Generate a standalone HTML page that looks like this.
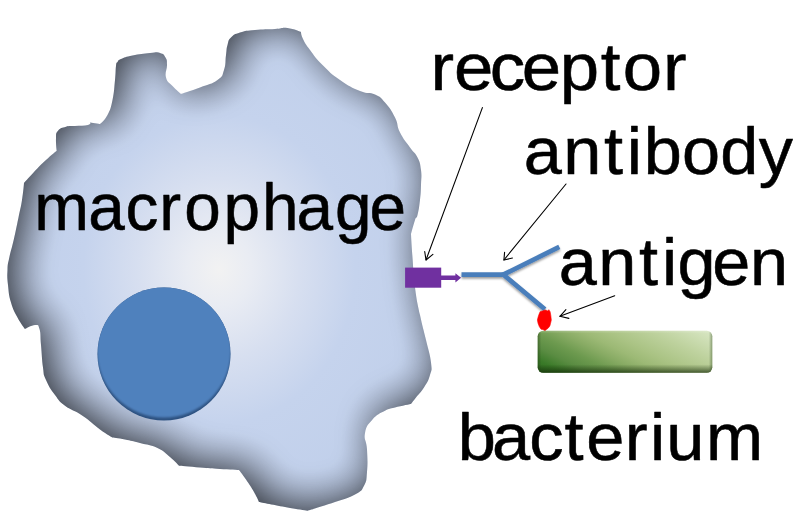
<!DOCTYPE html>
<html><head><meta charset="utf-8"><title>macrophage</title>
<style>
html,body{margin:0;padding:0;background:#fff;}
svg{display:block}
text{font-family:"Liberation Sans",sans-serif;fill:#000;stroke:#000;stroke-width:0.55px;stroke-linejoin:round}
</style></head><body>
<svg width="800" height="522" viewBox="0 0 800 522">
<defs>
<radialGradient id="mg" gradientUnits="userSpaceOnUse" cx="0" cy="0" r="245" gradientTransform="translate(219 269.5) scale(0.94 1.065)">
<stop offset="0" stop-color="#f2f2f2"/>
<stop offset="0.14" stop-color="#e9ecf3"/>
<stop offset="0.35" stop-color="#d7dff0"/>
<stop offset="0.59" stop-color="#c5d3ed"/>
<stop offset="1" stop-color="#c0cfea"/>
</radialGradient>
<filter id="bi" filterUnits="userSpaceOnUse" x="-60" y="-60" width="920" height="642" color-interpolation-filters="sRGB"><feGaussianBlur stdDeviation="18.5"/><feComponentTransfer><feFuncA type="table" tableValues="0.000 0.013 0.045 0.070 0.093 0.115 0.135 0.154 0.173 0.192 0.210 0.228 0.246 0.264 0.281 0.299 0.316 0.333 0.351 0.368 0.385 0.402 0.419 0.437 0.454 0.471 0.489 0.506 0.524 0.542 0.560 0.578 0.597 0.616 0.635 0.655 0.677 0.700 0.725 0.757 0.770"/></feComponentTransfer></filter>
<clipPath id="mc"><path d="M22.0,200.0C23.4,191.2 24.0,183.0 24.0,183.0C24.0,183.0 28.5,177.8 34.0,172.0C39.5,166.2 40.3,165.3 46.0,160.0C51.7,154.7 56.7,150.7 56.7,150.7C56.7,150.7 55.7,143.4 56.0,138.4C56.3,133.4 55.5,133.6 58.0,130.7C60.5,127.8 61.8,127.9 66.0,126.7C70.2,125.5 69.5,126.4 75.0,126.0C80.5,125.6 84.2,125.9 88.0,125.0C91.8,124.1 90.0,122.5 90.0,122.5C90.0,122.5 100.0,124.0 100.0,124.0C100.0,124.0 104.4,121.0 107.5,115.0C110.6,109.0 110.6,108.8 112.5,100.0C114.4,91.2 114.1,88.5 115.0,80.0C115.9,71.5 115.4,70.5 116.0,66.0C116.6,61.5 116.2,63.8 117.5,62.0C118.8,60.2 117.2,60.6 121.0,59.0C124.8,57.4 125.2,57.0 132.5,55.5C139.8,54.0 143.1,53.6 150.0,53.0C156.9,52.4 156.1,51.9 160.0,53.0C163.9,54.1 163.8,54.5 165.5,57.5C167.2,60.5 166.9,60.0 167.0,65.0C167.1,70.0 164.6,72.2 166.0,77.5C167.4,82.8 168.8,81.9 172.5,86.0C176.2,90.1 181.0,94.0 181.0,94.0C181.0,94.0 190.9,91.0 200.0,87.5C209.1,84.0 211.5,84.4 217.5,80.0C223.5,75.6 221.9,76.2 224.0,70.0C226.1,63.8 225.1,61.2 226.0,55.0C226.9,48.8 226.2,49.4 227.5,45.0C228.8,40.6 227.9,40.6 231.0,37.5C234.1,34.4 234.0,34.4 240.0,32.5C246.0,30.6 246.2,30.9 255.0,30.0C263.8,29.1 266.9,29.5 275.0,29.0C283.1,28.5 281.0,27.2 287.5,28.0C294.0,28.8 301.0,32.0 301.0,32.0C301.0,32.0 300.8,34.5 303.0,39.0C305.2,43.5 305.1,43.5 310.0,50.0C314.9,56.5 315.0,57.5 322.5,65.0C330.0,72.5 330.6,73.5 340.0,80.0C349.4,86.5 351.2,87.4 360.0,91.0C368.8,94.6 368.8,91.6 375.0,94.5C381.2,97.4 380.0,96.8 385.0,102.5C390.0,108.2 391.2,110.0 395.0,117.5C398.8,125.0 396.2,125.0 400.0,132.5C403.8,140.0 405.6,141.2 410.0,147.5C414.4,153.8 414.8,151.9 417.5,157.5C420.2,163.1 420.1,163.1 421.0,170.0C421.9,176.9 421.2,177.5 421.0,185.0C420.8,192.5 420.9,192.5 420.0,200.0C419.1,207.5 418.8,210.0 417.5,215.0C416.2,220.0 416.6,215.2 415.0,220.0C413.4,224.8 411.0,234.0 411.0,234.0C411.0,234.0 411.5,244.1 412.5,257.5C413.5,270.9 413.1,273.1 415.0,287.5C416.9,301.9 417.2,301.9 420.0,315.0C422.8,328.1 423.2,328.1 426.0,340.0C428.8,351.9 430.0,353.8 431.0,362.5C432.0,371.2 431.8,368.8 430.0,375.0C428.2,381.2 427.5,381.9 424.0,387.5C420.5,393.1 419.2,393.4 416.0,397.5C412.8,401.6 411.0,404.0 411.0,404.0C411.0,404.0 401.5,405.8 395.0,407.5C388.5,409.2 390.6,407.8 385.0,410.8C379.4,413.8 377.5,413.9 372.5,419.5C367.5,425.1 366.4,425.5 365.0,433.0C363.6,440.5 366.5,439.8 367.0,449.5C367.5,459.2 367.8,462.9 367.0,472.0C366.2,481.1 367.0,480.1 364.0,485.8C361.0,491.4 362.2,490.4 355.0,494.5C347.8,498.6 346.9,497.9 335.0,502.0C323.1,506.1 307.5,510.8 307.5,510.8C307.5,510.8 297.1,509.2 285.0,507.0C272.9,504.8 259.0,502.0 259.0,502.0C259.0,502.0 257.2,497.6 254.0,492.0C250.8,486.4 249.8,485.0 246.0,479.5C242.2,474.0 239.0,470.0 239.0,470.0C239.0,470.0 229.8,469.6 220.0,469.0C210.2,468.4 210.2,468.3 200.0,467.5C189.8,466.7 179.0,465.8 179.0,465.8C179.0,465.8 175.4,461.4 170.0,457.0C164.6,452.6 165.0,451.5 157.5,448.0C150.0,444.5 148.1,445.1 140.0,443.0C131.9,440.9 131.9,440.9 125.0,439.5C118.1,438.1 112.5,437.5 112.5,437.5C112.5,437.5 107.5,434.9 100.0,429.5C92.5,424.1 91.2,421.7 82.5,415.8C73.8,409.8 71.9,410.9 65.0,405.8C58.1,400.6 59.8,401.4 55.0,395.0C50.2,388.6 49.0,386.9 46.0,380.0C43.0,373.1 44.2,376.2 43.0,367.5C41.8,358.8 41.9,354.6 41.0,345.0C40.1,335.4 41.0,334.0 39.5,329.0C38.0,324.0 38.6,325.0 35.0,325.0C31.4,325.0 25.0,329.0 25.0,329.0C25.0,329.0 21.0,324.1 17.5,317.5C14.0,310.9 13.4,310.6 11.0,302.5C8.6,294.4 8.9,293.1 8.0,285.0C7.1,276.9 7.2,276.8 7.5,270.0C7.8,263.2 7.6,265.6 9.2,258.0C10.8,250.4 11.5,249.6 13.8,239.6C16.1,229.6 16.3,227.9 18.4,218.0C20.4,208.1 20.6,208.8 22.0,200.0Z"/></clipPath>
<filter id="b8" x="-20%" y="-20%" width="140%" height="140%"><feGaussianBlur stdDeviation="7"/></filter>
<filter id="b3" x="-20%" y="-20%" width="140%" height="140%"><feGaussianBlur stdDeviation="2.5"/></filter>
<linearGradient id="gg" gradientUnits="userSpaceOnUse" x1="537.5" y1="372.8" x2="589.2" y2="269.5">
<stop offset="0" stop-color="#2c6a1e"/>
<stop offset="0.1" stop-color="#3a7a28"/>
<stop offset="0.2" stop-color="#5a8c42"/>
<stop offset="0.3" stop-color="#6d9a4f"/>
<stop offset="0.4" stop-color="#88ab64"/>
<stop offset="0.49" stop-color="#9cb975"/>
<stop offset="0.59" stop-color="#aac384"/>
<stop offset="0.77" stop-color="#bed29e"/>
<stop offset="1" stop-color="#d9e7c5"/>
</linearGradient>
<linearGradient id="gb" x1="0" y1="0" x2="0" y2="1">
<stop offset="0" stop-color="#ffffff" stop-opacity="0.2"/>
<stop offset="0.06" stop-color="#ffffff" stop-opacity="0"/>
<stop offset="0.8" stop-color="#142808" stop-opacity="0"/>
<stop offset="0.92" stop-color="#142808" stop-opacity="0.4"/>
<stop offset="1" stop-color="#142808" stop-opacity="0.7"/>
</linearGradient>
<linearGradient id="gs" x1="0" y1="0" x2="1" y2="0">
<stop offset="0" stop-color="#203a12" stop-opacity="0.45"/>
<stop offset="0.02" stop-color="#203a12" stop-opacity="0"/>
<stop offset="0.98" stop-color="#203a12" stop-opacity="0"/>
<stop offset="1" stop-color="#203a12" stop-opacity="0.4"/>
</linearGradient>
<filter id="b1" x="-10%" y="-10%" width="120%" height="120%"><feGaussianBlur stdDeviation="1.3"/></filter>
<filter id="ds" x="-20%" y="-20%" width="140%" height="150%"><feDropShadow dx="0" dy="1.7" stdDeviation="1.2" flood-color="#000" flood-opacity="0.4"/></filter>
<linearGradient id="ng" x1="0" y1="0" x2="0" y2="1">
<stop offset="0" stop-color="#5083be"/>
<stop offset="0.85" stop-color="#4f81bd"/>
<stop offset="1" stop-color="#3f6ea8"/>
</linearGradient>
<clipPath id="nc"><circle cx="164" cy="354" r="66.5"/></clipPath>
</defs>
<rect width="800" height="522" fill="#fff"/>
<!-- macrophage -->
<path d="M22.0,200.0C23.4,191.2 24.0,183.0 24.0,183.0C24.0,183.0 28.5,177.8 34.0,172.0C39.5,166.2 40.3,165.3 46.0,160.0C51.7,154.7 56.7,150.7 56.7,150.7C56.7,150.7 55.7,143.4 56.0,138.4C56.3,133.4 55.5,133.6 58.0,130.7C60.5,127.8 61.8,127.9 66.0,126.7C70.2,125.5 69.5,126.4 75.0,126.0C80.5,125.6 84.2,125.9 88.0,125.0C91.8,124.1 90.0,122.5 90.0,122.5C90.0,122.5 100.0,124.0 100.0,124.0C100.0,124.0 104.4,121.0 107.5,115.0C110.6,109.0 110.6,108.8 112.5,100.0C114.4,91.2 114.1,88.5 115.0,80.0C115.9,71.5 115.4,70.5 116.0,66.0C116.6,61.5 116.2,63.8 117.5,62.0C118.8,60.2 117.2,60.6 121.0,59.0C124.8,57.4 125.2,57.0 132.5,55.5C139.8,54.0 143.1,53.6 150.0,53.0C156.9,52.4 156.1,51.9 160.0,53.0C163.9,54.1 163.8,54.5 165.5,57.5C167.2,60.5 166.9,60.0 167.0,65.0C167.1,70.0 164.6,72.2 166.0,77.5C167.4,82.8 168.8,81.9 172.5,86.0C176.2,90.1 181.0,94.0 181.0,94.0C181.0,94.0 190.9,91.0 200.0,87.5C209.1,84.0 211.5,84.4 217.5,80.0C223.5,75.6 221.9,76.2 224.0,70.0C226.1,63.8 225.1,61.2 226.0,55.0C226.9,48.8 226.2,49.4 227.5,45.0C228.8,40.6 227.9,40.6 231.0,37.5C234.1,34.4 234.0,34.4 240.0,32.5C246.0,30.6 246.2,30.9 255.0,30.0C263.8,29.1 266.9,29.5 275.0,29.0C283.1,28.5 281.0,27.2 287.5,28.0C294.0,28.8 301.0,32.0 301.0,32.0C301.0,32.0 300.8,34.5 303.0,39.0C305.2,43.5 305.1,43.5 310.0,50.0C314.9,56.5 315.0,57.5 322.5,65.0C330.0,72.5 330.6,73.5 340.0,80.0C349.4,86.5 351.2,87.4 360.0,91.0C368.8,94.6 368.8,91.6 375.0,94.5C381.2,97.4 380.0,96.8 385.0,102.5C390.0,108.2 391.2,110.0 395.0,117.5C398.8,125.0 396.2,125.0 400.0,132.5C403.8,140.0 405.6,141.2 410.0,147.5C414.4,153.8 414.8,151.9 417.5,157.5C420.2,163.1 420.1,163.1 421.0,170.0C421.9,176.9 421.2,177.5 421.0,185.0C420.8,192.5 420.9,192.5 420.0,200.0C419.1,207.5 418.8,210.0 417.5,215.0C416.2,220.0 416.6,215.2 415.0,220.0C413.4,224.8 411.0,234.0 411.0,234.0C411.0,234.0 411.5,244.1 412.5,257.5C413.5,270.9 413.1,273.1 415.0,287.5C416.9,301.9 417.2,301.9 420.0,315.0C422.8,328.1 423.2,328.1 426.0,340.0C428.8,351.9 430.0,353.8 431.0,362.5C432.0,371.2 431.8,368.8 430.0,375.0C428.2,381.2 427.5,381.9 424.0,387.5C420.5,393.1 419.2,393.4 416.0,397.5C412.8,401.6 411.0,404.0 411.0,404.0C411.0,404.0 401.5,405.8 395.0,407.5C388.5,409.2 390.6,407.8 385.0,410.8C379.4,413.8 377.5,413.9 372.5,419.5C367.5,425.1 366.4,425.5 365.0,433.0C363.6,440.5 366.5,439.8 367.0,449.5C367.5,459.2 367.8,462.9 367.0,472.0C366.2,481.1 367.0,480.1 364.0,485.8C361.0,491.4 362.2,490.4 355.0,494.5C347.8,498.6 346.9,497.9 335.0,502.0C323.1,506.1 307.5,510.8 307.5,510.8C307.5,510.8 297.1,509.2 285.0,507.0C272.9,504.8 259.0,502.0 259.0,502.0C259.0,502.0 257.2,497.6 254.0,492.0C250.8,486.4 249.8,485.0 246.0,479.5C242.2,474.0 239.0,470.0 239.0,470.0C239.0,470.0 229.8,469.6 220.0,469.0C210.2,468.4 210.2,468.3 200.0,467.5C189.8,466.7 179.0,465.8 179.0,465.8C179.0,465.8 175.4,461.4 170.0,457.0C164.6,452.6 165.0,451.5 157.5,448.0C150.0,444.5 148.1,445.1 140.0,443.0C131.9,440.9 131.9,440.9 125.0,439.5C118.1,438.1 112.5,437.5 112.5,437.5C112.5,437.5 107.5,434.9 100.0,429.5C92.5,424.1 91.2,421.7 82.5,415.8C73.8,409.8 71.9,410.9 65.0,405.8C58.1,400.6 59.8,401.4 55.0,395.0C50.2,388.6 49.0,386.9 46.0,380.0C43.0,373.1 44.2,376.2 43.0,367.5C41.8,358.8 41.9,354.6 41.0,345.0C40.1,335.4 41.0,334.0 39.5,329.0C38.0,324.0 38.6,325.0 35.0,325.0C31.4,325.0 25.0,329.0 25.0,329.0C25.0,329.0 21.0,324.1 17.5,317.5C14.0,310.9 13.4,310.6 11.0,302.5C8.6,294.4 8.9,293.1 8.0,285.0C7.1,276.9 7.2,276.8 7.5,270.0C7.8,263.2 7.6,265.6 9.2,258.0C10.8,250.4 11.5,249.6 13.8,239.6C16.1,229.6 16.3,227.9 18.4,218.0C20.4,208.1 20.6,208.8 22.0,200.0Z" fill="url(#mg)"/>
<g clip-path="url(#mc)">
<path d="M-200,-200 H1000 V722 H-200Z M22.0,200.0C23.4,191.2 24.0,183.0 24.0,183.0C24.0,183.0 28.5,177.8 34.0,172.0C39.5,166.2 40.3,165.3 46.0,160.0C51.7,154.7 56.7,150.7 56.7,150.7C56.7,150.7 55.7,143.4 56.0,138.4C56.3,133.4 55.5,133.6 58.0,130.7C60.5,127.8 61.8,127.9 66.0,126.7C70.2,125.5 69.5,126.4 75.0,126.0C80.5,125.6 84.2,125.9 88.0,125.0C91.8,124.1 90.0,122.5 90.0,122.5C90.0,122.5 100.0,124.0 100.0,124.0C100.0,124.0 104.4,121.0 107.5,115.0C110.6,109.0 110.6,108.8 112.5,100.0C114.4,91.2 114.1,88.5 115.0,80.0C115.9,71.5 115.4,70.5 116.0,66.0C116.6,61.5 116.2,63.8 117.5,62.0C118.8,60.2 117.2,60.6 121.0,59.0C124.8,57.4 125.2,57.0 132.5,55.5C139.8,54.0 143.1,53.6 150.0,53.0C156.9,52.4 156.1,51.9 160.0,53.0C163.9,54.1 163.8,54.5 165.5,57.5C167.2,60.5 166.9,60.0 167.0,65.0C167.1,70.0 164.6,72.2 166.0,77.5C167.4,82.8 168.8,81.9 172.5,86.0C176.2,90.1 181.0,94.0 181.0,94.0C181.0,94.0 190.9,91.0 200.0,87.5C209.1,84.0 211.5,84.4 217.5,80.0C223.5,75.6 221.9,76.2 224.0,70.0C226.1,63.8 225.1,61.2 226.0,55.0C226.9,48.8 226.2,49.4 227.5,45.0C228.8,40.6 227.9,40.6 231.0,37.5C234.1,34.4 234.0,34.4 240.0,32.5C246.0,30.6 246.2,30.9 255.0,30.0C263.8,29.1 266.9,29.5 275.0,29.0C283.1,28.5 281.0,27.2 287.5,28.0C294.0,28.8 301.0,32.0 301.0,32.0C301.0,32.0 300.8,34.5 303.0,39.0C305.2,43.5 305.1,43.5 310.0,50.0C314.9,56.5 315.0,57.5 322.5,65.0C330.0,72.5 330.6,73.5 340.0,80.0C349.4,86.5 351.2,87.4 360.0,91.0C368.8,94.6 368.8,91.6 375.0,94.5C381.2,97.4 380.0,96.8 385.0,102.5C390.0,108.2 391.2,110.0 395.0,117.5C398.8,125.0 396.2,125.0 400.0,132.5C403.8,140.0 405.6,141.2 410.0,147.5C414.4,153.8 414.8,151.9 417.5,157.5C420.2,163.1 420.1,163.1 421.0,170.0C421.9,176.9 421.2,177.5 421.0,185.0C420.8,192.5 420.9,192.5 420.0,200.0C419.1,207.5 418.8,210.0 417.5,215.0C416.2,220.0 416.6,215.2 415.0,220.0C413.4,224.8 411.0,234.0 411.0,234.0C411.0,234.0 411.5,244.1 412.5,257.5C413.5,270.9 413.1,273.1 415.0,287.5C416.9,301.9 417.2,301.9 420.0,315.0C422.8,328.1 423.2,328.1 426.0,340.0C428.8,351.9 430.0,353.8 431.0,362.5C432.0,371.2 431.8,368.8 430.0,375.0C428.2,381.2 427.5,381.9 424.0,387.5C420.5,393.1 419.2,393.4 416.0,397.5C412.8,401.6 411.0,404.0 411.0,404.0C411.0,404.0 401.5,405.8 395.0,407.5C388.5,409.2 390.6,407.8 385.0,410.8C379.4,413.8 377.5,413.9 372.5,419.5C367.5,425.1 366.4,425.5 365.0,433.0C363.6,440.5 366.5,439.8 367.0,449.5C367.5,459.2 367.8,462.9 367.0,472.0C366.2,481.1 367.0,480.1 364.0,485.8C361.0,491.4 362.2,490.4 355.0,494.5C347.8,498.6 346.9,497.9 335.0,502.0C323.1,506.1 307.5,510.8 307.5,510.8C307.5,510.8 297.1,509.2 285.0,507.0C272.9,504.8 259.0,502.0 259.0,502.0C259.0,502.0 257.2,497.6 254.0,492.0C250.8,486.4 249.8,485.0 246.0,479.5C242.2,474.0 239.0,470.0 239.0,470.0C239.0,470.0 229.8,469.6 220.0,469.0C210.2,468.4 210.2,468.3 200.0,467.5C189.8,466.7 179.0,465.8 179.0,465.8C179.0,465.8 175.4,461.4 170.0,457.0C164.6,452.6 165.0,451.5 157.5,448.0C150.0,444.5 148.1,445.1 140.0,443.0C131.9,440.9 131.9,440.9 125.0,439.5C118.1,438.1 112.5,437.5 112.5,437.5C112.5,437.5 107.5,434.9 100.0,429.5C92.5,424.1 91.2,421.7 82.5,415.8C73.8,409.8 71.9,410.9 65.0,405.8C58.1,400.6 59.8,401.4 55.0,395.0C50.2,388.6 49.0,386.9 46.0,380.0C43.0,373.1 44.2,376.2 43.0,367.5C41.8,358.8 41.9,354.6 41.0,345.0C40.1,335.4 41.0,334.0 39.5,329.0C38.0,324.0 38.6,325.0 35.0,325.0C31.4,325.0 25.0,329.0 25.0,329.0C25.0,329.0 21.0,324.1 17.5,317.5C14.0,310.9 13.4,310.6 11.0,302.5C8.6,294.4 8.9,293.1 8.0,285.0C7.1,276.9 7.2,276.8 7.5,270.0C7.8,263.2 7.6,265.6 9.2,258.0C10.8,250.4 11.5,249.6 13.8,239.6C16.1,229.6 16.3,227.9 18.4,218.0C20.4,208.1 20.6,208.8 22.0,200.0Z" fill-rule="evenodd" fill="#000" transform="translate(8 -4)" filter="url(#bi)"/>
</g>
<!-- nucleus -->
<circle cx="164" cy="354" r="66.5" fill="#2d5180"/>
<g clip-path="url(#nc)"><circle cx="164" cy="350.6" r="66.9" fill="#4f81bd" filter="url(#b1)"/></g>
<!-- receptor -->
<rect x="405.1" y="267.6" width="36.1" height="20.1" fill="#7030a0"/>
<path d="M441,275.4 H455.4 V273.2 L461.1,277.7 L455.4,282.4 V280 H441Z" fill="#7030a0"/>
<!-- antibody -->
<g fill="none" stroke="#4a7ebb" stroke-width="4.7" stroke-linecap="butt" stroke-linejoin="miter" filter="url(#ds)">
<path d="M461.5,274.7 H503.5"/>
<path d="M559.3,246.9 L503.3,274.6 L544.9,309.2"/>
</g>
<!-- antigen -->
<path d="M545.1,310 L547.8,311 L548.8,309.7 L550.1,311.7 L550.8,315.4 L551.3,320.1 L550.5,323.5 L549.8,326.1 L548.1,328.2 L546.4,329.5 L544.8,331 L543.1,329.5 L541.1,329.2 L539.4,326.8 L538.1,323.5 L537.4,320.1 L538.1,317.1 L539.1,314.1 L540.1,311.7 L542.4,311Z" fill="#ff0000" stroke="#ff0000" stroke-width="0.6" stroke-linejoin="round"/>
<!-- bacterium -->
<rect x="537.7" y="330.8" width="174.6" height="42" rx="5.5" ry="5.5" fill="url(#gg)"/>
<rect x="537.7" y="330.8" width="174.6" height="42" rx="5.5" ry="5.5" fill="url(#gb)"/>
<rect x="537.7" y="330.8" width="174.6" height="42" rx="5.5" ry="5.5" fill="url(#gs)"/>
<!-- arrows -->
<g fill="none" stroke="#000" stroke-width="1.1" stroke-linecap="round" stroke-linejoin="round">
<path d="M482.4,107.6 L426,260"/><path d="M424.7,251.5 L426,260 L432.9,254.4"/>
<path d="M566,184 L503.9,260"/><path d="M504.6,252.2 L503.9,260 L512.5,258"/>
<path d="M614.7,295.7 L559.9,316.3"/><path d="M565.9,309.7 L559.9,316.3 L568.9,318.4"/>
</g>
<!-- labels -->
<text transform="translate(0 229.9) scale(0.9737 1)" font-size="67.5" x="35.3 90.6 128.8 163.6 189.2 229.6 269.0 304.6 344.1 379.5" y="0">macrophage</text>
<text transform="translate(0 89.6) scale(1.0481 1)" font-size="67.5" x="410.7 433.1 467.3 497.9 534.1 573.1 594.3 632.5" y="0">receptor</text>
<text transform="translate(0 173.9) scale(1.0146 1)" font-size="67.5" x="516.2 555.1 595.2 617.8 634.5 672.2 710.0 747.8" y="0">antibody</text>
<text transform="translate(0 285.2) scale(1.0133 1)" font-size="67.5" x="551.5 590.4 630.6 653.2 668.7 702.8 740.1" y="0">antigen</text>
<text transform="translate(0 459.6) scale(1.0166 1)" font-size="67.5" x="450.2 484.0 520.7 555.4 576.6 614.6 639.3 655.3 694.4" y="0">bacterium</text>

</svg>
</body></html>
